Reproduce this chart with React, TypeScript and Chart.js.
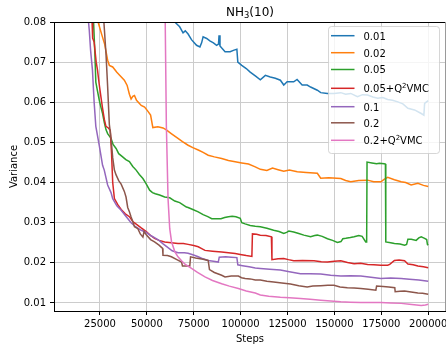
import React, { useEffect, useRef } from 'react';
import { Chart, registerables } from 'chart.js';

Chart.register(...registerables);

const chartTitle = 'NH₃(10)';
const xLabel = 'Steps';
const yLabel = 'Variance';
const xTicks = [25000, 50000, 75000, 100000, 125000, 150000, 175000, 200000];
const yTicks = [0.01, 0.02, 0.03, 0.04, 0.05, 0.06, 0.07, 0.08];
const seriesLabels = ['0.01', '0.02', '0.05', '0.05+Q²VMC', '0.1', '0.2', '0.2+Q²VMC'];
const seriesColors = ['#1f77b4', '#ff7f0e', '#2ca02c', '#d62728', '#9467bd', '#8c564b', '#e377c2'];

// 0.01
const steps001 = [62000, 64900, 67500, 69300, 70500, 72000, 73800, 76500, 78300, 79200, 80000, 81900, 83600, 85500, 87200, 88200, 88500, 89000, 91700, 94400, 96500, 98000, 98500, 100600, 103000, 105100, 108000, 110500, 113200, 115800, 118500, 121200, 123000, 124800, 128300, 130100, 132800, 135500, 137300, 140900, 142700, 146300, 149800, 153400, 156000, 158700, 162300, 165000, 167700, 170500, 173100, 175800, 178400, 181000, 183800, 186500, 189200, 192700, 196300, 197700, 198100, 200000];
const var001 = [0.0815, 0.0800, 0.0788, 0.0773, 0.0778, 0.0770, 0.0756, 0.0742, 0.0738, 0.0748, 0.0763, 0.0759, 0.0753, 0.0748, 0.0742, 0.0745, 0.0767, 0.0740, 0.0726, 0.0726, 0.0730, 0.0732, 0.0700, 0.0692, 0.0684, 0.0675, 0.0665, 0.0656, 0.0667, 0.0663, 0.0660, 0.0655, 0.0643, 0.0651, 0.0651, 0.0657, 0.0643, 0.0643, 0.0638, 0.0630, 0.0624, 0.0622, 0.0622, 0.0624, 0.0620, 0.0622, 0.0614, 0.0619, 0.0618, 0.0613, 0.0610, 0.0612, 0.0607, 0.0605, 0.0601, 0.0596, 0.0585, 0.0581, 0.0572, 0.0568, 0.0597, 0.0604];

// 0.02
const steps002 = [22500, 24000, 26000, 27500, 29100, 30000, 31800, 34000, 36000, 38000, 39500, 40700, 41600, 42500, 43400, 44500, 47000, 48800, 50500, 52000, 53200, 55900, 58600, 60400, 63000, 66600, 69000, 72000, 74500, 77400, 80000, 82700, 86000, 89900, 93500, 97100, 100600, 104200, 107800, 110500, 114000, 117000, 120000, 123000, 126000, 130200, 135000, 140900, 142700, 147000, 153400, 156000, 158700, 163000, 167700, 171000, 174800, 176500, 178400, 182000, 185600, 188000, 190900, 194500, 197500, 200000];
const var002 = [0.0860, 0.0800, 0.0768, 0.0745, 0.0705, 0.0692, 0.0688, 0.0675, 0.0665, 0.0655, 0.0642, 0.0620, 0.0608, 0.0615, 0.0617, 0.0605, 0.0592, 0.0588, 0.0578, 0.0568, 0.0537, 0.0539, 0.0536, 0.0531, 0.0522, 0.0510, 0.0502, 0.0493, 0.0487, 0.0481, 0.0475, 0.0468, 0.0464, 0.0460, 0.0455, 0.0452, 0.0449, 0.0446, 0.0439, 0.0433, 0.0430, 0.0436, 0.0432, 0.0428, 0.0431, 0.0427, 0.0425, 0.0423, 0.0411, 0.0412, 0.0410, 0.0405, 0.0402, 0.0405, 0.0406, 0.0402, 0.0402, 0.0408, 0.0413, 0.0407, 0.0402, 0.0400, 0.0394, 0.0398, 0.0393, 0.0390];

// 0.05
const steps005 = [20500, 21600, 22300, 22800, 23700, 24600, 25500, 26400, 27300, 28200, 29100, 30900, 32000, 33600, 35000, 37100, 38800, 40700, 42500, 44300, 46000, 47900, 49500, 51500, 53000, 54500, 56800, 59500, 62200, 64900, 67500, 69500, 71100, 72000, 74500, 77400, 80000, 82500, 84600, 87000, 89500, 91500, 93500, 95500, 97500, 99800, 100600, 102400, 105100, 107800, 110500, 114000, 117600, 120500, 123000, 124500, 125700, 128300, 131000, 133700, 137300, 139500, 140900, 143500, 146300, 149000, 151600, 153500, 154500, 156100, 158500, 160500, 163000, 164800, 166700, 167200, 167400, 170000, 172500, 174000, 176500, 177200, 177400, 180000, 182000, 185000, 187400, 188500, 189200, 191000, 193600, 195000, 196300, 198100, 199200, 199600, 200000];
const var005 = [0.0880, 0.0800, 0.0720, 0.0650, 0.0628, 0.0606, 0.0588, 0.0572, 0.0550, 0.0532, 0.0522, 0.0510, 0.0495, 0.0485, 0.0472, 0.0464, 0.0457, 0.0452, 0.0440, 0.0431, 0.0420, 0.0410, 0.0398, 0.0381, 0.0375, 0.0372, 0.0369, 0.0364, 0.0362, 0.0354, 0.0350, 0.0344, 0.0339, 0.0338, 0.0333, 0.0327, 0.0320, 0.0315, 0.0310, 0.0310, 0.0310, 0.0313, 0.0315, 0.0316, 0.0315, 0.0311, 0.0300, 0.0297, 0.0293, 0.0291, 0.0290, 0.0286, 0.0281, 0.0278, 0.0273, 0.0276, 0.0279, 0.0277, 0.0273, 0.0269, 0.0265, 0.0268, 0.0269, 0.0266, 0.0260, 0.0256, 0.0251, 0.0253, 0.0260, 0.0261, 0.0263, 0.0265, 0.0268, 0.0266, 0.0252, 0.0252, 0.0451, 0.0449, 0.0447, 0.0448, 0.0447, 0.0446, 0.0252, 0.0250, 0.0248, 0.0247, 0.0244, 0.0246, 0.0259, 0.0259, 0.0256, 0.0262, 0.0265, 0.0261, 0.0258, 0.0246, 0.0244];

// 0.05+Q2VMC
const steps005q = [19800, 20800, 21100, 21900, 23000, 23700, 24600, 25500, 26400, 27300, 28200, 29500, 30500, 31200, 31800, 32700, 34500, 36300, 38500, 40700, 42500, 44500, 47000, 49700, 52000, 54100, 56500, 59500, 63000, 66600, 69500, 72000, 75000, 77400, 79000, 81000, 85000, 89900, 93500, 97100, 99800, 103000, 106000, 106300, 108500, 110500, 113500, 116400, 116700, 120000, 123000, 125500, 128300, 133000, 139100, 143000, 146300, 150000, 153400, 157000, 160500, 164000, 167700, 171000, 174800, 178400, 179500, 182000, 184500, 187400, 189200, 192000, 194500, 197500, 200000];
const var005q = [0.0880, 0.0800, 0.0760, 0.0750, 0.0700, 0.0680, 0.0645, 0.0614, 0.0585, 0.0558, 0.0540, 0.0536, 0.0530, 0.0470, 0.0400, 0.0360, 0.0345, 0.0333, 0.0322, 0.0315, 0.0303, 0.0296, 0.0287, 0.0278, 0.0268, 0.0261, 0.0256, 0.0252, 0.0250, 0.0248, 0.0248, 0.0246, 0.0243, 0.0240, 0.0236, 0.0231, 0.0229, 0.0227, 0.0225, 0.0223, 0.0221, 0.0218, 0.0216, 0.0272, 0.0271, 0.0269, 0.0268, 0.0265, 0.0208, 0.0210, 0.0211, 0.0208, 0.0205, 0.0206, 0.0205, 0.0203, 0.0202, 0.0204, 0.0205, 0.0201, 0.0198, 0.0199, 0.0196, 0.0195, 0.0194, 0.0194, 0.0196, 0.0206, 0.0207, 0.0205, 0.0197, 0.0195, 0.0192, 0.0190, 0.0188];

// 0.1
const steps01 = [18000, 18900, 19300, 20000, 21000, 21900, 22800, 24600, 26400, 27300, 29100, 30900, 31800, 34000, 36300, 38500, 41600, 44000, 47000, 49700, 52000, 54100, 56500, 58500, 61300, 63500, 66600, 70000, 72000, 74500, 77400, 80000, 82700, 85500, 88100, 88600, 92000, 95000, 98000, 98500, 101000, 104500, 107800, 110500, 115500, 121200, 126000, 131900, 137000, 142700, 148000, 153400, 158500, 164100, 169500, 174800, 180000, 185600, 190000, 195000, 200000];
const var01 = [0.0880, 0.0800, 0.0780, 0.0730, 0.0680, 0.0600, 0.0540, 0.0493, 0.0443, 0.0431, 0.0394, 0.0375, 0.0360, 0.0342, 0.0331, 0.0318, 0.0300, 0.0290, 0.0281, 0.0276, 0.0268, 0.0263, 0.0256, 0.0248, 0.0238, 0.0230, 0.0225, 0.0225, 0.0224, 0.0220, 0.0215, 0.0210, 0.0206, 0.0204, 0.0202, 0.0214, 0.0215, 0.0214, 0.0213, 0.0195, 0.0193, 0.0190, 0.0187, 0.0186, 0.0184, 0.0182, 0.0178, 0.0173, 0.0173, 0.0172, 0.0169, 0.0167, 0.0168, 0.0167, 0.0164, 0.0161, 0.0162, 0.0161, 0.0159, 0.0157, 0.0154];

// 0.2
const steps02 = [26500, 27100, 28200, 29100, 30000, 30900, 31800, 32700, 33600, 35000, 36300, 38000, 38900, 39800, 40700, 41600, 42500, 43400, 45200, 46500, 47900, 48500, 49700, 52000, 54100, 56500, 58400, 58600, 61000, 63100, 66000, 68500, 69000, 72900, 73300, 76000, 80000, 82700, 83400, 86000, 89900, 91700, 95000, 98800, 100500, 102400, 105100, 107800, 110500, 114000, 117600, 122000, 126600, 131000, 135500, 138500, 142700, 146500, 149800, 153000, 156900, 160500, 164100, 168000, 172100, 172500, 176000, 179000, 182200, 182400, 185000, 187400, 190000, 194500, 197000, 200000];
const var02 = [0.0880, 0.0800, 0.0722, 0.0639, 0.0545, 0.0510, 0.0462, 0.0431, 0.0419, 0.0405, 0.0396, 0.0378, 0.0364, 0.0338, 0.0327, 0.0314, 0.0303, 0.0290, 0.0285, 0.0272, 0.0264, 0.0278, 0.0270, 0.0258, 0.0252, 0.0244, 0.0236, 0.0219, 0.0218, 0.0215, 0.0208, 0.0202, 0.0192, 0.0192, 0.0215, 0.0212, 0.0209, 0.0206, 0.0183, 0.0176, 0.0169, 0.0165, 0.0167, 0.0167, 0.0163, 0.0161, 0.0160, 0.0157, 0.0157, 0.0154, 0.0152, 0.0150, 0.0147, 0.0143, 0.0140, 0.0142, 0.0143, 0.0144, 0.0144, 0.0140, 0.0138, 0.0137, 0.0136, 0.0134, 0.0132, 0.0142, 0.0141, 0.0140, 0.0138, 0.0128, 0.0129, 0.0130, 0.0128, 0.0125, 0.0124, 0.0122];

// 0.2+Q2VMC
const steps02q = [59300, 59800, 60400, 61300, 62200, 63200, 64900, 66600, 68500, 70500, 73800, 77000, 81000, 85000, 89900, 94000, 98800, 103000, 107800, 110500, 115000, 121200, 126000, 131900, 137000, 142700, 148000, 153400, 158500, 164100, 170000, 174800, 180000, 185600, 190000, 196300, 198500, 200000];
const var02q = [0.0950, 0.0800, 0.0543, 0.0360, 0.0285, 0.0252, 0.0228, 0.0215, 0.0205, 0.0196, 0.0186, 0.0176, 0.0165, 0.0156, 0.0148, 0.0142, 0.0136, 0.0130, 0.0125, 0.0120, 0.0117, 0.0114, 0.0113, 0.0111, 0.0109, 0.0107, 0.0105, 0.0103, 0.0102, 0.0101, 0.0101, 0.0101, 0.0100, 0.0099, 0.0097, 0.0094, 0.0095, 0.0097];

const seriesSteps = [steps001, steps002, steps005, steps005q, steps01, steps02, steps02q];
const seriesValues = [var001, var002, var005, var005q, var01, var02, var02q];

const FONT = '"DejaVu Sans", sans-serif';

function drawRich(ctx: CanvasRenderingContext2D, text: string, x: number, y: number, size: number, align: 'left' | 'center') {
  const segs: { t: string; kind: string }[] = [];
  for (const ch of text) {
    let kind = 'n';
    let t = ch;
    if (ch === '²') { kind = 'sup'; t = '2'; }
    else if (ch === '₃') { kind = 'sub'; t = '3'; }
    const last = segs[segs.length - 1];
    if (last && last.kind === kind) last.t += t;
    else segs.push({ t, kind });
  }
  const fontFor = (k: string) => `${k === 'n' ? size : size * 0.7}px ${FONT}`;
  let total = 0;
  for (const s of segs) { ctx.font = fontFor(s.kind); total += ctx.measureText(s.t).width; }
  let cx = align === 'center' ? x - total / 2 : x;
  ctx.textAlign = 'left';
  ctx.textBaseline = 'alphabetic';
  for (const s of segs) {
    ctx.font = fontFor(s.kind);
    const dy = s.kind === 'sup' ? -size * 0.42 : s.kind === 'sub' ? size * 0.2 : 0;
    ctx.fillText(s.t, cx, y + dy);
    cx += ctx.measureText(s.t).width;
  }
}

const decorPlugin = {
  id: 'decor',
  afterDraw(chart: any) {
    const ctx: CanvasRenderingContext2D = chart.ctx;
    const a = chart.chartArea;
    ctx.save();
    // spines top / right
    ctx.strokeStyle = '#000';
    ctx.lineWidth = 1;
    ctx.beginPath();
    ctx.moveTo(a.left, a.top + 0.5);
    ctx.lineTo(a.right, a.top + 0.5);
    ctx.stroke();
    ctx.strokeStyle = '#9a9a9a';
    ctx.beginPath();
    ctx.moveTo(a.right - 0.5, a.top);
    ctx.lineTo(a.right - 0.5, a.bottom);
    ctx.stroke();

    // title
    ctx.fillStyle = '#000';
    drawRich(ctx, chartTitle, (a.left + a.right) / 2, 15.5, 12, 'center');
    // x label
    ctx.font = `10px ${FONT}`;
    ctx.textAlign = 'center';
    ctx.textBaseline = 'alphabetic';
    ctx.fillText(xLabel, (a.left + a.right) / 2, 342);
    // y label
    ctx.save();
    ctx.translate(16.5, (a.top + a.bottom) / 2);
    ctx.rotate(-Math.PI / 2);
    ctx.fillText(yLabel, 0, 0);
    ctx.restore();

    // legend
    const lx = 328.5, ly = 26.5, lw = 111, lh = 127, r = 3;
    ctx.beginPath();
    ctx.moveTo(lx + r, ly);
    ctx.lineTo(lx + lw - r, ly);
    ctx.arcTo(lx + lw, ly, lx + lw, ly + r, r);
    ctx.lineTo(lx + lw, ly + lh - r);
    ctx.arcTo(lx + lw, ly + lh, lx + lw - r, ly + lh, r);
    ctx.lineTo(lx + r, ly + lh);
    ctx.arcTo(lx, ly + lh, lx, ly + lh - r, r);
    ctx.lineTo(lx, ly + r);
    ctx.arcTo(lx, ly, lx + r, ly, r);
    ctx.closePath();
    ctx.fillStyle = 'rgba(255,255,255,0.8)';
    ctx.fill();
    ctx.strokeStyle = 'rgba(204,204,204,0.8)';
    ctx.lineWidth = 1;
    ctx.stroke();
    const rows = [35.7, 52.7, 69.5, 88.3, 106.7, 122.8, 140.3];
    seriesLabels.forEach((lab, i) => {
      const y = rows[i];
      ctx.strokeStyle = seriesColors[i];
      ctx.lineWidth = 1.5;
      ctx.beginPath();
      ctx.moveTo(331, y);
      ctx.lineTo(354.5, y);
      ctx.stroke();
      ctx.fillStyle = '#000';
      drawRich(ctx, lab, 363.5, y + 3.8, 10, 'left');
    });
    ctx.restore();
  },
};

export default function App() {
  const ref = useRef<HTMLCanvasElement | null>(null);
  useEffect(() => {
    document.body.style.margin = '0';
    const canvas = ref.current;
    if (!canvas) return;
    const tickFont = { family: FONT, size: 10 };
    const chart = new Chart(canvas, {
      type: 'line',
      data: {
        datasets: seriesLabels.map((label, i) => ({
          label,
          data: seriesSteps[i].map((x, j) => ({ x, y: seriesValues[i][j] })),
          borderColor: seriesColors[i],
          backgroundColor: seriesColors[i],
          borderWidth: 1.5,
          pointRadius: 0,
          tension: 0,
          fill: false,
          clip: 0,
          order: seriesLabels.length - 1 - i,
        })),
      },
      options: {
        animation: false,
        responsive: false,
        maintainAspectRatio: false,
        layout: { padding: { top: 22, left: 0, right: 0, bottom: 0 } },
        plugins: { legend: { display: false }, title: { display: false }, tooltip: { enabled: false } },
        scales: {
          x: {
            type: 'linear',
            min: 500,
            max: 209500,
            afterBuildTicks: (s: any) => { s.ticks = xTicks.map((v) => ({ value: v })); },
            afterFit: (s: any) => { s.height = 34; s.paddingLeft = 0; s.paddingRight = 0; },
            grid: { color: '#cccccc', lineWidth: 1, tickColor: '#000', tickLength: 4, drawTicks: true },
            border: { color: '#000', width: 1 },
            ticks: { font: tickFont, color: '#000', padding: 3, maxRotation: 0, autoSkip: false, callback: (v: any) => String(v) },
          },
          y: {
            type: 'linear',
            min: 0.008,
            max: 0.08,
            afterBuildTicks: (s: any) => { s.ticks = yTicks.map((v) => ({ value: v })); },
            afterFit: (s: any) => { s.width = 54; s.paddingTop = 0; s.paddingBottom = 0; },
            grid: { color: '#cccccc', lineWidth: 1, tickColor: '#000', tickLength: 4, drawTicks: true },
            border: { color: '#000', width: 1 },
            ticks: { font: tickFont, color: '#000', padding: 4, autoSkip: false, callback: (v: any) => Number(v).toFixed(2) },
          },
        },
      } as any,
      plugins: [decorPlugin],
    });
    return () => chart.destroy();
  }, []);
  return (
    <div style={{ width: 446, height: 345 }}>
      <canvas ref={ref} width={446} height={345} style={{ display: 'block' }} />
    </div>
  );
}
